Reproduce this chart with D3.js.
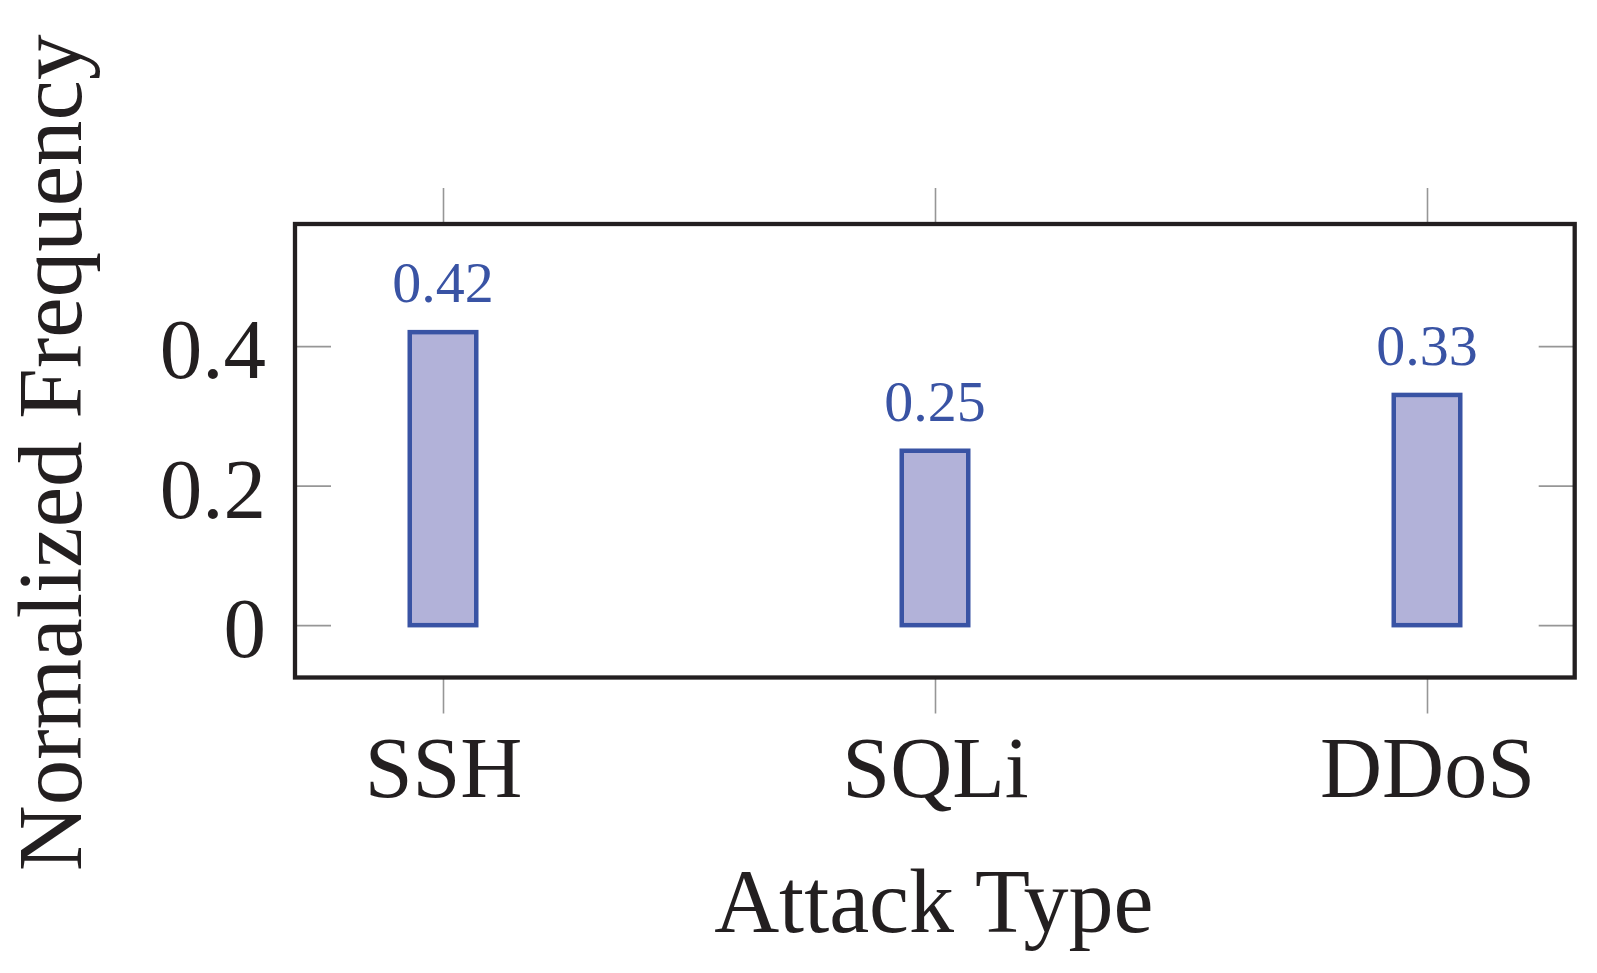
<!DOCTYPE html>
<html>
<head>
<meta charset="utf-8">
<script src="https://cdn.jsdelivr.net/npm/d3@7/dist/d3.min.js"></script>
<style>
  html, body { margin: 0; padding: 0; background: #ffffff; }
  svg { display: block; }
  text { font-family: "Liberation Serif", "Times New Roman", serif; }
</style>
</head>
<body>
<svg id="chart" width="1597" height="973"></svg>
<script>
// ---- data ----
const categories = ["SSH", "SQLi", "DDoS"];
const values = [0.42, 0.25, 0.33];
const valueLabels = ["0.42", "0.25", "0.33"];
const yTicks = [0, 0.2, 0.4];
const yTickLabels = ["0", "0.2", "0.4"];
const xTitle = "Attack Type";
const yTitle = "Normalized Frequency";

// ---- layout ----
const svg = d3.select("#chart");
const frame = { left: 295, right: 1574.7, top: 224, bottom: 677.5 };
const ink = "#231f20";
const tickGray = "#969696";
const barStroke = "#3953a4";
const barFill = "#b2b2d9";

const x = d3.scalePoint().domain(categories).range([443, 1427]);
const y = d3.scaleLinear().domain([-0.075, 0.575]).range([frame.bottom, frame.top]);

// bars
const barW = 66.5;
svg.append("g").selectAll("rect")
  .data(categories)
  .join("rect")
  .attr("x", d => x(d) - barW / 2)
  .attr("y", (d, i) => y(values[i]))
  .attr("width", barW)
  .attr("height", (d, i) => y(0) - y(values[i]))
  .attr("fill", barFill)
  .attr("stroke", barStroke)
  .attr("stroke-width", 4.5);

// value labels
svg.append("g").selectAll("text")
  .data(categories)
  .join("text")
  .attr("x", d => x(d))
  .attr("y", (d, i) => y(values[i]) - 30)
  .attr("text-anchor", "middle")
  .attr("font-size", 58)
  .attr("fill", barStroke)
  .text((d, i) => valueLabels[i]);

// x axes (bottom with labels, top mirrored)
const xBottom = svg.append("g")
  .attr("transform", `translate(0,${frame.bottom})`)
  .call(d3.axisBottom(x).tickSize(36).tickPadding(0).tickSizeOuter(0));
xBottom.select(".domain").remove();
xBottom.selectAll(".tick line").attr("stroke", tickGray).attr("stroke-width", 1.6);
xBottom.selectAll(".tick text")
  .attr("y", 119).attr("dy", null)
  .attr("font-size", 86)
  .attr("font-family", "Liberation Serif")
  .attr("fill", ink);

const xTop = svg.append("g")
  .attr("transform", `translate(0,${frame.top})`)
  .call(d3.axisTop(x).tickSize(36).tickFormat("").tickSizeOuter(0));
xTop.select(".domain").remove();
xTop.selectAll(".tick line").attr("stroke", tickGray).attr("stroke-width", 1.6);

// y axes (left with labels, right mirrored), ticks pointing inward
const yLeft = svg.append("g")
  .attr("transform", `translate(${frame.left},0)`)
  .call(d3.axisLeft(y).tickValues(yTicks).tickSize(-36).tickSizeOuter(0)
    .tickFormat((d, i) => yTickLabels[i]));
yLeft.select(".domain").remove();
yLeft.selectAll(".tick line").attr("stroke", tickGray).attr("stroke-width", 1.6);
yLeft.selectAll(".tick text")
  .attr("x", -29).attr("dy", "0.37em")
  .attr("font-size", 85)
  .attr("font-family", "Liberation Serif")
  .attr("fill", ink);

const yRight = svg.append("g")
  .attr("transform", `translate(${frame.right},0)`)
  .call(d3.axisRight(y).tickValues(yTicks).tickSize(-36).tickFormat("").tickSizeOuter(0));
yRight.select(".domain").remove();
yRight.selectAll(".tick line").attr("stroke", tickGray).attr("stroke-width", 1.6);

// frame
svg.append("rect")
  .attr("x", frame.left).attr("y", frame.top)
  .attr("width", frame.right - frame.left)
  .attr("height", frame.bottom - frame.top)
  .attr("fill", "none")
  .attr("stroke", ink)
  .attr("stroke-width", 4.3);

// titles
svg.append("text")
  .attr("x", (frame.left + frame.right) / 2 - 1)
  .attr("y", 931.5)
  .attr("text-anchor", "middle")
  .attr("font-size", 90)
  .attr("fill", ink)
  .text(xTitle);

svg.append("text")
  .attr("transform", `translate(81,${(frame.top + frame.bottom) / 2 + 2}) rotate(-90)`)
  .attr("text-anchor", "middle")
  .attr("font-size", 91)
  .attr("fill", ink)
  .text(yTitle);
</script>
</body>
</html>
